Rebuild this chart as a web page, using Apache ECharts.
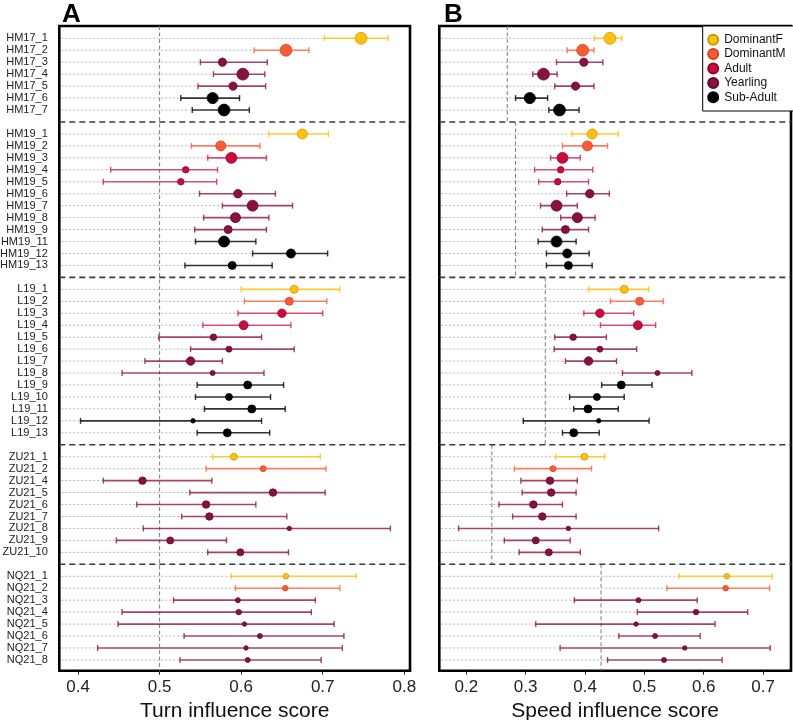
<!DOCTYPE html>
<html>
<head>
<meta charset="utf-8">
<script src="https://cdn.jsdelivr.net/npm/echarts@6/dist/echarts.min.js"></script>
<style>
html,body{margin:0;padding:0;background:#fff;}
#chart{width:793px;height:720px;}
</style>
</head>
<body>
<div id="chart"></div>
<script>
// ---------- data ----------
const groupNames = ['HM17', 'HM19', 'L19', 'ZU21', 'NQ21'];
const rowLabels = [
  'HM17_1','HM17_2','HM17_3','HM17_4','HM17_5','HM17_6','HM17_7',
  'HM19_1','HM19_2','HM19_3','HM19_4','HM19_5','HM19_6','HM19_7','HM19_8','HM19_9','HM19_11','HM19_12','HM19_13',
  'L19_1','L19_2','L19_3','L19_4','L19_5','L19_6','L19_7','L19_8','L19_9','L19_10','L19_11','L19_12','L19_13',
  'ZU21_1','ZU21_2','ZU21_4','ZU21_5','ZU21_6','ZU21_7','ZU21_8','ZU21_9','ZU21_10',
  'NQ21_1','NQ21_2','NQ21_3','NQ21_4','NQ21_5','NQ21_6','NQ21_7','NQ21_8'
];
const rowGroup = [
  0,0,0,0,0,0,0,
  1,1,1,1,1,1,1,1,1,1,1,1,
  2,2,2,2,2,2,2,2,2,2,2,2,2,
  3,3,3,3,3,3,3,3,3,
  4,4,4,4,4,4,4,4
];
const roleNames = ['DominantF', 'DominantM', 'Adult', 'Yearling', 'Sub-Adult'];
const rowRole = [
  'DominantF','DominantM','Yearling','Yearling','Yearling','Sub-Adult','Sub-Adult',
  'DominantF','DominantM','Adult','Adult','Adult','Yearling','Yearling','Yearling','Yearling','Sub-Adult','Sub-Adult','Sub-Adult',
  'DominantF','DominantM','Adult','Adult','Yearling','Yearling','Yearling','Yearling','Sub-Adult','Sub-Adult','Sub-Adult','Sub-Adult','Sub-Adult',
  'DominantF','DominantM','Yearling','Yearling','Yearling','Yearling','Yearling','Yearling','Yearling',
  'DominantF','DominantM','Yearling','Yearling','Yearling','Yearling','Yearling','Yearling'
];
// relative sample weight (drives point area)
const sampleWeight = [
  140,140,68,140,68,125,140,
  100,100,120,42,42,72,120,100,64,120,81,64,
  64,64,72,81,42,36,72,25,64,49,64,20,64,
  49,36,56,56,56,56,20,49,49,
  30,30,25,30,20,25,20,25
];
const turnLo = [
  0.702,0.616,0.550,0.566,0.547,0.526,0.540,
  0.634,0.539,0.559,0.440,0.431,0.549,0.577,0.554,0.543,0.544,0.614,0.531,
  0.600,0.604,0.596,0.553,0.499,0.538,0.482,0.454,0.546,0.544,0.555,0.403,0.546,
  0.565,0.557,0.431,0.537,0.472,0.527,0.480,0.447,0.559,
  0.588,0.593,0.517,0.454,0.449,0.530,0.424,0.525
];
const turnMean = [
  0.747,0.655,0.577,0.602,0.590,0.565,0.579,
  0.675,0.575,0.588,0.532,0.526,0.596,0.614,0.593,0.584,0.579,0.661,0.589,
  0.665,0.659,0.650,0.603,0.566,0.585,0.538,0.565,0.608,0.585,0.613,0.541,0.583,
  0.591,0.627,0.479,0.639,0.557,0.561,0.659,0.513,0.599,
  0.655,0.654,0.596,0.597,0.604,0.623,0.606,0.608
];
const turnHi = [
  0.780,0.683,0.632,0.629,0.630,0.598,0.610,
  0.707,0.623,0.631,0.571,0.570,0.642,0.663,0.634,0.631,0.618,0.706,0.638,
  0.721,0.705,0.700,0.661,0.625,0.665,0.577,0.628,0.652,0.636,0.654,0.625,0.635,
  0.697,0.704,0.564,0.703,0.618,0.656,0.783,0.582,0.658,
  0.741,0.721,0.691,0.686,0.714,0.726,0.724,0.698
];
const speedLo = [
  0.416,0.370,0.352,0.312,0.349,0.283,0.339,
  0.378,0.362,0.342,0.315,0.322,0.369,0.325,0.359,0.328,0.321,0.335,0.335,
  0.406,0.443,0.398,0.426,0.349,0.348,0.367,0.463,0.428,0.374,0.381,0.296,0.362,
  0.351,0.281,0.292,0.294,0.255,0.278,0.187,0.264,0.289,
  0.558,0.538,0.382,0.488,0.317,0.457,0.358,0.438
];
const speedMean = [
  0.442,0.396,0.398,0.330,0.384,0.307,0.357,
  0.412,0.404,0.362,0.359,0.354,0.408,0.352,0.387,0.367,0.352,0.370,0.372,
  0.466,0.492,0.425,0.489,0.380,0.425,0.406,0.522,0.461,0.420,0.405,0.423,0.381,
  0.399,0.346,0.341,0.343,0.313,0.328,0.372,0.317,0.339,
  0.639,0.637,0.490,0.587,0.486,0.518,0.568,0.533
];
const speedHi = [
  0.462,0.415,0.430,0.353,0.415,0.337,0.390,
  0.456,0.438,0.392,0.413,0.406,0.441,0.387,0.417,0.406,0.385,0.407,0.412,
  0.507,0.532,0.482,0.519,0.436,0.487,0.453,0.580,0.513,0.466,0.456,0.508,0.424,
  0.433,0.411,0.387,0.385,0.362,0.385,0.524,0.375,0.392,
  0.715,0.711,0.589,0.674,0.619,0.594,0.712,0.631
];
const turnReference = 0.5;
const speedGroupReference = [0.269, 0.283, 0.333, 0.243, 0.427];
const turnTicks = [0.4, 0.5, 0.6, 0.7, 0.8];
const speedTicks = [0.2, 0.3, 0.4, 0.5, 0.6, 0.7];

// ---------- layout helpers ----------
const FONT = '"Liberation Sans", Arial, Helvetica, sans-serif';
const roleColor = {
  'DominantF': '#FFC10E', 'DominantM': '#FF5A35', 'Adult': '#CC0A3D',
  'Yearling': '#8A1040', 'Sub-Adult': '#000000'
};
const roleBorder = {
  'DominantF': '#C99A00', 'DominantM': '#C8461F', 'Adult': '#8E0629',
  'Yearling': '#5E0A2B', 'Sub-Adult': '#000000'
};
const roleBar = {
  'DominantF': 'rgba(255,193,14,0.85)', 'DominantM': 'rgba(255,90,53,0.78)',
  'Adult': 'rgba(204,10,61,0.72)', 'Yearling': 'rgba(138,16,64,0.78)',
  'Sub-Adult': 'rgba(0,0,0,0.8)'
};

// row positions: one empty slot between groups
const rowPos = [];
const sepPos = [];
const groupSpan = [];
{
  let p = 0;
  for (let i = 0; i < rowLabels.length; i++) {
    if (i > 0 && rowGroup[i] !== rowGroup[i - 1]) { sepPos.push(p); p++; }
    rowPos.push(p);
    p++;
  }
}
const Y_MIN = -1.03, Y_MAX = 52.9;
for (let g = 0; g < groupNames.length; g++) {
  const y0 = g === 0 ? Y_MIN : sepPos[g - 1];
  const y1 = g === groupNames.length - 1 ? Y_MAX : sepPos[g];
  groupSpan.push([y0, y1]);
}
const posToLabel = {};
rowPos.forEach((p, i) => { posToLabel[p] = rowLabels[i]; });

const X_RANGE = [[0.377, 0.807], [0.1545, 0.747]];

function rowSeries(panel, lo, mean, hi) {
  const xmin = X_RANGE[panel][0];
  const data = rowLabels.map((_, i) => [lo[i], hi[i], rowPos[i], roleNames.indexOf(rowRole[i])]);
  return {
    type: 'custom',
    name: 'rows' + panel,
    xAxisIndex: panel, yAxisIndex: panel,
    silent: true, z: 3,
    encode: { x: [0, 1], y: 2 },
    data: data,
    renderItem: function (params, api) {
      const l = api.value(0), h = api.value(1), y = api.value(2);
      const role = roleNames[api.value(3)];
      const pMin = api.coord([xmin, y]);
      const pL = api.coord([l, y]);
      const pH = api.coord([h, y]);
      const cap = 3;
      const col = roleBar[role];
      return {
        type: 'group',
        children: [
          { type: 'line', z2: 1, shape: { x1: pMin[0] + 2, y1: pMin[1], x2: pL[0], y2: pL[1] },
            style: { stroke: '#b3b3b3', lineWidth: 1, lineDash: [2, 2] } },
          { type: 'line', z2: 5, shape: { x1: pL[0], y1: pL[1], x2: pH[0], y2: pH[1] },
            style: { stroke: col, lineWidth: 1.6 } },
          { type: 'line', z2: 5, shape: { x1: pL[0], y1: pL[1] - cap, x2: pL[0], y2: pL[1] + cap },
            style: { stroke: col, lineWidth: 1.4 } },
          { type: 'line', z2: 5, shape: { x1: pH[0], y1: pH[1] - cap, x2: pH[0], y2: pH[1] + cap },
            style: { stroke: col, lineWidth: 1.4 } }
        ]
      };
    }
  };
}

function refSeries(panel, refs) {
  return {
    type: 'custom',
    xAxisIndex: panel, yAxisIndex: panel,
    silent: true, z: 2,
    encode: { x: 0, y: [1, 2] },
    data: refs,
    renderItem: function (params, api) {
      const a = api.coord([api.value(0), api.value(1)]);
      const b = api.coord([api.value(0), api.value(2)]);
      return { type: 'line', shape: { x1: a[0], y1: a[1], x2: b[0], y2: b[1] },
        style: { stroke: '#7a7a7a', lineWidth: 1, lineDash: [4, 2.5] } };
    }
  };
}

function sepSeries(panel) {
  return {
    type: 'custom',
    xAxisIndex: panel, yAxisIndex: panel,
    silent: true, z: 4,
    encode: { y: 0 },
    data: sepPos.map(p => [p]),
    renderItem: function (params, api) {
      const cs = params.coordSys;
      const y = api.coord([X_RANGE[panel][0], api.value(0)])[1];
      return { type: 'line', shape: { x1: cs.x, y1: y, x2: cs.x + cs.width, y2: y },
        style: { stroke: '#3a3a3a', lineWidth: 1.6, lineDash: [6, 4] } };
    }
  };
}

function pointSeries(panel, mean) {
  return roleNames.map(role => ({
    type: 'scatter',
    name: role,
    xAxisIndex: panel, yAxisIndex: panel,
    z: 6,
    symbol: 'circle',
    symbolSize: v => Math.sqrt(v[2]),
    itemStyle: { color: roleColor[role], borderColor: roleBorder[role], borderWidth: 0.8, opacity: 1 },
    emphasis: { disabled: true },
    data: rowLabels.map((_, i) => i).filter(i => rowRole[i] === role)
      .map(i => [mean[i], rowPos[i], sampleWeight[i]])
  }));
}

const chart = echarts.init(document.getElementById('chart'), null, { renderer: 'canvas' });

const grids = [
  { left: 59.3, width: 350.7, top: 26, height: 644.7 },
  { left: 439.3, width: 351.7, top: 26, height: 644.7 }
];

const option = {
  animation: false,
  backgroundColor: '#fff',
  textStyle: { fontFamily: FONT },
  grid: grids.map(g => Object.assign({ show: true, borderColor: '#000', borderWidth: 2.6,
    backgroundColor: '#fff', containLabel: false, outerBoundsMode: 'none' }, g)),
  xAxis: [0, 1].map(panel => ({
    type: 'value',
    gridIndex: panel,
    position: 'bottom',
    min: X_RANGE[panel][0], max: X_RANGE[panel][1],
    name: panel === 0 ? 'Turn influence score' : 'Speed influence score',
    nameLocation: 'middle',
    nameGap: 27,
    nameTextStyle: { fontSize: 21, color: '#111', fontFamily: FONT },
    axisLine: { show: false, onZero: false },
    axisTick: { show: true, length: 4, lineStyle: { color: '#222', width: 1 },
      customValues: panel === 0 ? turnTicks : speedTicks },
    axisLabel: { show: true, fontSize: 17, color: '#222', margin: 8, fontFamily: FONT,
      customValues: panel === 0 ? turnTicks : speedTicks,
      formatter: v => String(Math.round(v * 10) / 10) },
    splitLine: { show: false }
  })),
  yAxis: [0, 1].map(panel => ({
    type: 'value',
    gridIndex: panel,
    inverse: true,
    min: Y_MIN, max: Y_MAX,
    axisLine: { show: false, onZero: false },
    axisTick: { show: false },
    splitLine: { show: false },
    axisLabel: {
      show: panel === 0,
      customValues: rowPos,
      fontSize: 11, color: '#222', margin: 11.5, fontFamily: FONT,
      formatter: v => posToLabel[v] || ''
    }
  })),
  legend: {
    orient: 'vertical',
    left: 702.7, top: 26,
    data: roleNames,
    icon: 'circle',
    itemWidth: 10, itemHeight: 10,
    itemGap: 2.4,
    padding: [7.7, 8, 7.7, 4.5],
    backgroundColor: '#fff',
    borderColor: '#000', borderWidth: 1,
    borderRadius: 0,
    selectedMode: false,
    textStyle: { fontSize: 12, color: '#111', lineHeight: 12, fontFamily: FONT, padding: [0, 0, 0, 1] },
    z: 20
  },
  graphic: [
    { type: 'text', left: 62, top: 2, z: 20,
      style: { text: 'A', fontSize: 26, fontWeight: 'bold', fill: '#000', fontFamily: FONT } },
    { type: 'text', left: 444, top: 2, z: 20,
      style: { text: 'B', fontSize: 26, fontWeight: 'bold', fill: '#000', fontFamily: FONT } }
  ],
  series: [
    refSeries(0, [[turnReference, Y_MIN, Y_MAX]]),
    refSeries(1, speedGroupReference.map((r, g) => [r, groupSpan[g][0], groupSpan[g][1]])),
    rowSeries(0, turnLo, turnMean, turnHi),
    rowSeries(1, speedLo, speedMean, speedHi),
    sepSeries(0),
    sepSeries(1)
  ].concat(pointSeries(0, turnMean), pointSeries(1, speedMean))
};

chart.setOption(option);
</script>
</body>
</html>
